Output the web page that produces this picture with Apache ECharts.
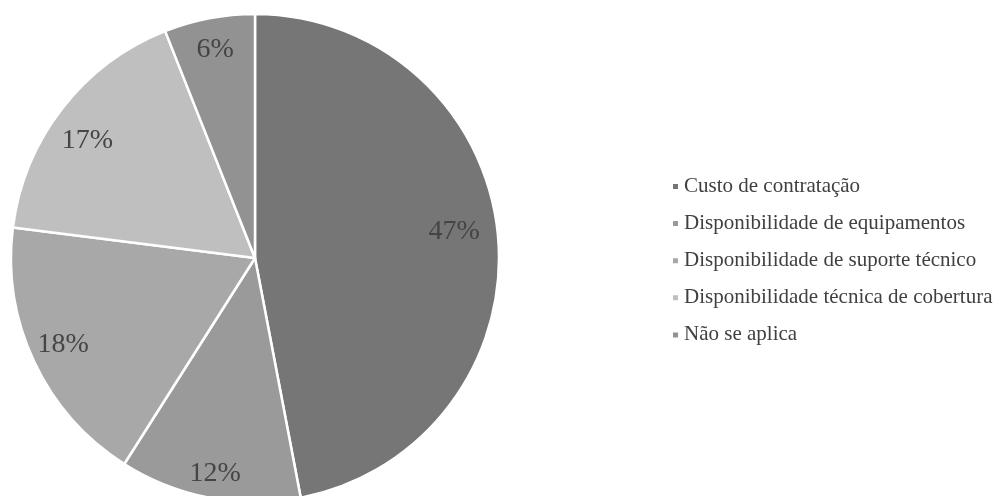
<!DOCTYPE html>
<html>
<head>
<meta charset="utf-8">
<script src="https://cdn.jsdelivr.net/npm/echarts@6/dist/echarts.min.js"></script>
<style>
html,body{margin:0;padding:0;background:#fff;}
#chart{width:995px;height:496px;}
</style>
</head>
<body>
<div id="chart"></div>
<script>
var categories = ['Custo de contratação', 'Disponibilidade de equipamentos', 'Disponibilidade de suporte técnico', 'Disponibilidade técnica de cobertura', 'Não se aplica'];
var values = [47, 12, 18, 17, 6];
var colors = ['#767676', '#9a9a9a', '#a8a8a8', '#bfbfbf', '#929292'];
var labelOffsets = [[-12, -6], [0, 7], [0, -4], [0, 13], [0, 0]];

var chart = echarts.init(document.getElementById('chart'));
var mainData = categories.map(function (c, i) {
  return { name: c, value: values[i], itemStyle: { color: colors[i] } };
});
var labelData = categories.map(function (c, i) {
  return { name: c, value: values[i], label: { offset: labelOffsets[i] } };
});
chart.setOption({
  animation: false,
  legend: {
    orient: 'vertical',
    left: 671,
    top: 176,
    padding: 0,
    itemWidth: 7,
    itemHeight: 7,
    itemGap: 16.1,
    icon: 'rect',
    data: categories,
    textStyle: { fontFamily: 'Liberation Serif', fontSize: 21, lineHeight: 20, color: '#404040' }
  },
  series: [
    {
      type: 'pie',
      center: [255, 258],
      radius: [0, 244],
      startAngle: 90,
      clockwise: true,
      silent: true,
      label: { show: false },
      labelLine: { show: false },
      itemStyle: { borderColor: '#ffffff', borderWidth: 2.5 },
      data: mainData
    },
    {
      type: 'pie',
      center: [255, 258],
      radius: [174, 244],
      startAngle: 90,
      clockwise: true,
      silent: true,
      legendHoverLink: false,
      itemStyle: { color: 'rgba(0,0,0,0)' },
      label: {
        show: true,
        position: 'inside',
        formatter: '{c}%',
        fontFamily: 'Liberation Serif',
        fontSize: 28,
        color: '#454545'
      },
      labelLine: { show: false },
      data: labelData
    }
  ]
});
</script>
</body>
</html>
